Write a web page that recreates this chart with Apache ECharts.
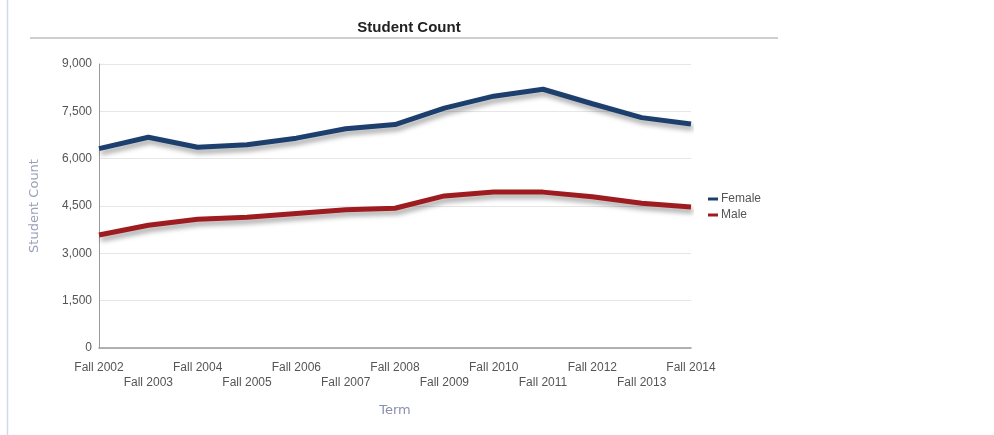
<!DOCTYPE html>
<html>
<head>
<meta charset="utf-8">
<script src="https://cdn.jsdelivr.net/npm/echarts@6/dist/echarts.min.js"></script>
<style>
  html, body { margin: 0; padding: 0; background: #fff; }
  #main { width: 994px; height: 435px; }
</style>
</head>
<body>
<div id="main"></div>
<script>
// terms on the x axis
var terms = ['Fall 2002', 'Fall 2003', 'Fall 2004', 'Fall 2005', 'Fall 2006', 'Fall 2007', 'Fall 2008',
  'Fall 2009', 'Fall 2010', 'Fall 2011', 'Fall 2012', 'Fall 2013', 'Fall 2014']
// student counts
var female = [6320, 6680, 6360, 6440, 6650, 6950, 7080, 7600, 7980, 8200, 7740, 7300, 7100]
var male = [3580, 3890, 4080, 4140, 4260, 4380, 4430, 4820, 4940, 4940, 4790, 4590, 4470]
var yTicks = [0, 1500, 3000, 4500, 6000, 7500, 9000]

var labelFont = '"Liberation Sans", Arial, sans-serif'
var nameFont = '"DejaVu Sans", sans-serif'
var chart = echarts.init(document.getElementById('main'))

function lineSeries (name, data, color) {
  return {
    name: name,
    type: 'line',
    data: data,
    symbol: 'none',
    smooth: false,
    lineStyle: {
      width: 5,
      color: color,
      shadowColor: 'rgba(0, 0, 0, 0.35)',
      shadowBlur: 5,
      shadowOffsetX: 2,
      shadowOffsetY: 4
    },
    itemStyle: { color: color }
  }
}

chart.setOption({
  animation: false,
  title: {
    text: 'Student Count',
    left: 404,
    top: 15,
    textAlign: 'center',
    textStyle: { fontFamily: labelFont, fontSize: 15, fontWeight: 'bold', color: '#222' }
  },
  graphic: [
    { type: 'line', shape: { x1: 7.5, y1: 0, x2: 7.5, y2: 435 }, style: { stroke: '#cddcec', lineWidth: 1.5 } },
    { type: 'line', shape: { x1: 30, y1: 38, x2: 778, y2: 38 }, style: { stroke: '#cfcfcf', lineWidth: 2 } }
  ],
  legend: {
    orient: 'vertical',
    left: 703,
    top: 188,
    itemWidth: 10,
    itemHeight: 3,
    itemGap: 4,
    icon: 'rect',
    data: ['Female', 'Male'],
    textStyle: { fontFamily: labelFont, fontSize: 12, color: '#555', padding: [0, 0, 0, -2] }
  },
  grid: { left: 99, right: 303, top: 64, bottom: 87 },
  xAxis: {
    type: 'category',
    data: terms,
    boundaryGap: false,
    name: 'Term',
    nameLocation: 'middle',
    nameGap: 56,
    nameTextStyle: { fontFamily: nameFont, fontSize: 13, color: '#8a8fae' },
    axisLine: { lineStyle: { color: '#9a9a9a', width: 1.5 } },
    axisTick: { show: false },
    axisLabel: {
      interval: 0,
      margin: 12,
      fontFamily: labelFont,
      fontSize: 12,
      color: '#555',
      lineHeight: 15,
      formatter: function (v, i) { return i % 2 === 1 ? '\n' + v : v }
    },
    splitLine: { show: false }
  },
  yAxis: {
    type: 'value',
    min: yTicks[0],
    max: yTicks[yTicks.length - 1],
    interval: 1500,
    name: 'Student Count',
    nameLocation: 'middle',
    nameGap: 58,
    nameTextStyle: { fontFamily: nameFont, fontSize: 13, color: '#9aa0b8' },
    axisLine: { show: true, lineStyle: { color: '#9a9a9a', width: 1 } },
    axisTick: { show: false },
    axisLabel: {
      margin: 7,
      fontFamily: labelFont,
      fontSize: 12,
      color: '#555',
      formatter: function (v) { return v.toLocaleString('en-US') }
    },
    splitLine: { lineStyle: { color: '#e6e6e6', width: 1 } }
  },
  series: [
    lineSeries('Female', female, '#1c3f6e'),
    lineSeries('Male', male, '#9e1c1f')
  ]
})
</script>
</body>
</html>
